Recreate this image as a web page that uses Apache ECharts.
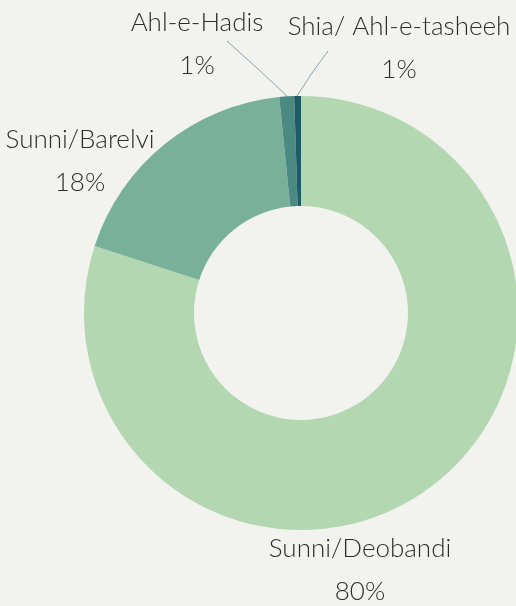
<!DOCTYPE html>
<html><head><meta charset="utf-8">
<script src="https://cdn.jsdelivr.net/npm/echarts@6/dist/echarts.min.js"></script>
<style>html,body{margin:0;padding:0;background:#f2f2ee;}#c{width:516px;height:606px;}</style>
</head><body><div id="c"></div>
<script>
var categories = ['Sunni/Deobandi', 'Sunni/Barelvi', 'Ahl-e-Hadis', 'Shia/ Ahl-e-tasheeh'];
var values = [80.0, 18.4, 1.1, 0.5];
var colors = ['#b3d7b0', '#79b09a', '#4b8a80', '#1d5c66'];

var labelPos = [
  {x: 360, y: 570, line: null},
  {x: 80, y: 161, line: null},
  {x: 197, y: 44, line: [[287, 96], [257, 68], [227, 41]]},
  {x: 399, y: 48, line: [[297, 96], [312, 73], [328, 51]]}
];

var chart = echarts.init(document.getElementById('c'), null, {renderer: 'canvas'});
chart.setOption({
  backgroundColor: '#f2f2ee',
  animation: false,
  series: [{
    type: 'pie',
    center: [301, 313],
    radius: [107, 217],
    startAngle: 90,
    clockwise: true,
    avoidLabelOverlap: false,
    itemStyle: {borderWidth: 0},
    label: {
      show: true,
      position: 'outside',
      fontFamily: 'Lato',
      fontWeight: 300,
      fontSize: 26,
      color: '#2e2e2e',
      lineHeight: 43,
      align: 'center',
      formatter: function (p) {
        return p.name + '\n' + Math.max(1, Math.round(p.percent)) + '%';
      }
    },
    labelLine: {show: true, lineStyle: {color: '#8fa3ad', width: 1}},
    labelLayout: function (p) {
      var lp = labelPos[p.dataIndex];
      var r = {x: lp.x, y: lp.y, align: 'center', verticalAlign: 'middle'};
      if (lp.line) r.labelLinePoints = lp.line;
      return r;
    },
    data: categories.map(function (c, i) {
      return {
        name: c, value: values[i],
        itemStyle: {color: colors[i]},
        labelLine: {show: i >= 2}
      };
    })
  }]
});
</script></body></html>
